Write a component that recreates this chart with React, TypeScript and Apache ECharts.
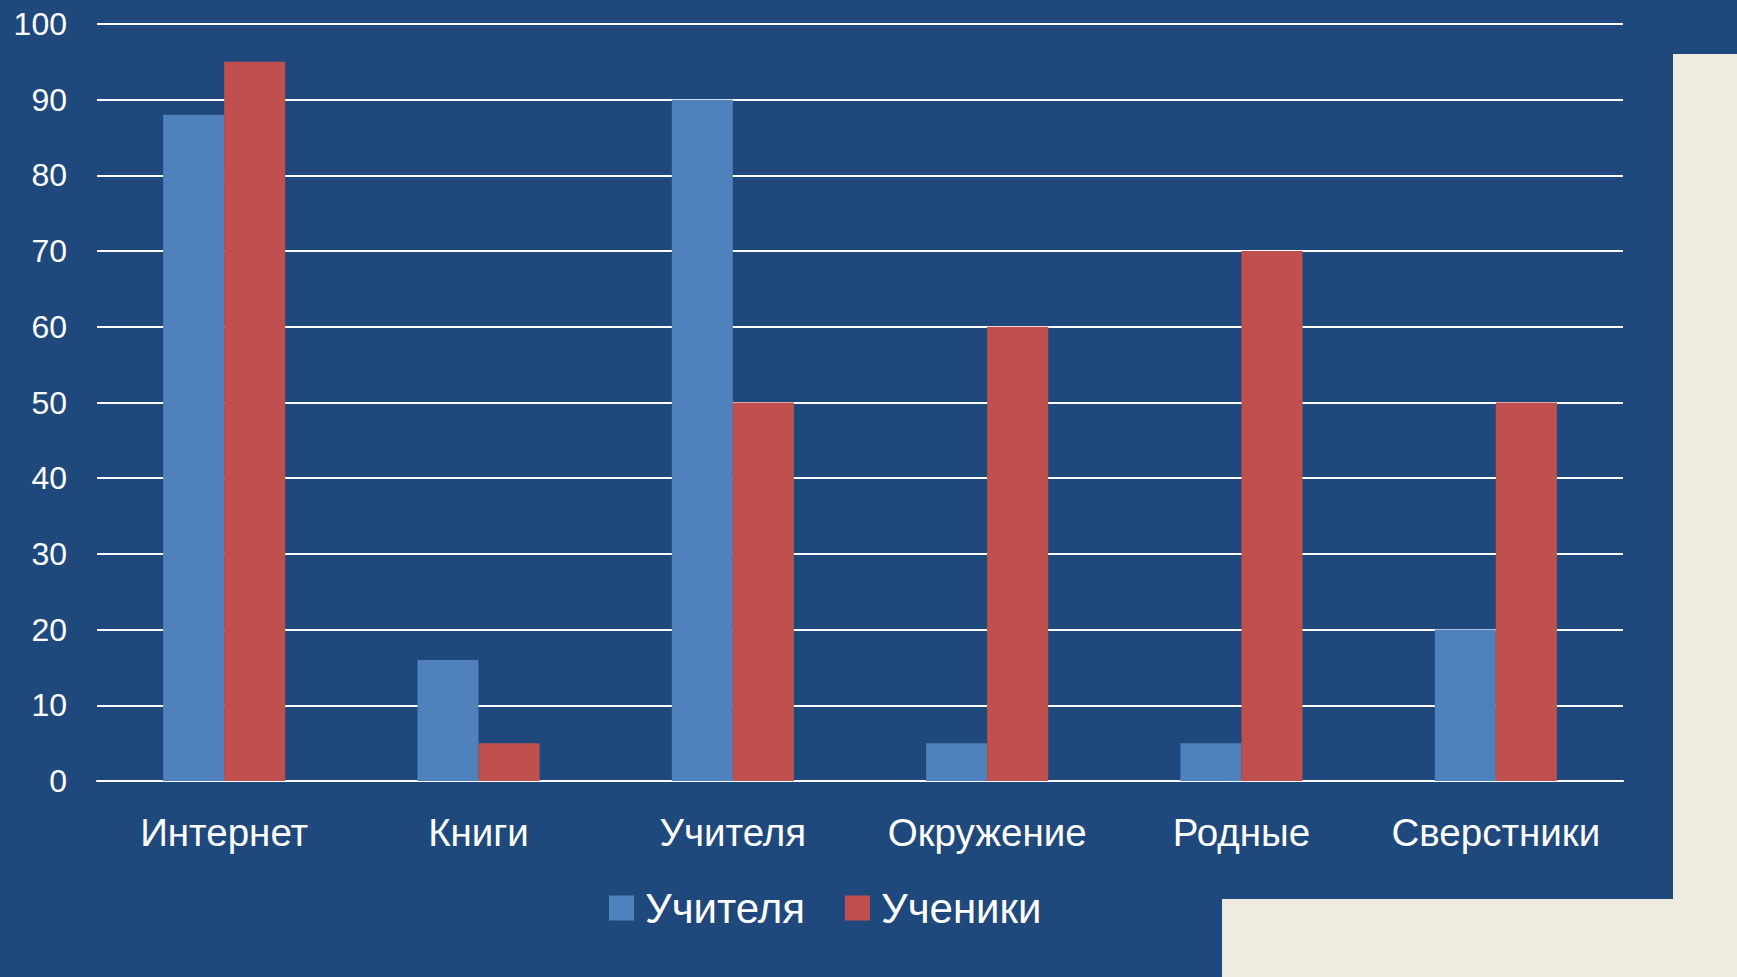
import React, { useEffect, useRef } from "react";
import * as echarts from "echarts";

const categories = ["Интернет", "Книги", "Учителя", "Окружение", "Родные", "Сверстники"];
const teachers = [88, 16, 90, 5, 5, 20];
const students = [95, 5, 50, 60, 70, 50];
const seriesNames = ["Учителя", "Ученики"];

const FONT = "'Liberation Sans', Arial, sans-serif";

export default function App() {
  const ref = useRef<HTMLDivElement>(null);
  useEffect(() => {
    document.body.style.margin = "0";
    const chart = echarts.init(ref.current!, null, { renderer: "svg" });
    chart.setOption({
      animation: false,
      backgroundColor: "#1F497D",
      graphic: [
        { type: "rect", z: -10, shape: { x: 1673, y: 54, width: 64, height: 923 }, style: { fill: "#EEEBE0" } },
        { type: "rect", z: -10, shape: { x: 1222, y: 899, width: 515, height: 78 }, style: { fill: "#EEEBE0" } },
      ],
      grid: { left: 97, right: 114, top: 24, bottom: 196, containLabel: false },
      legend: {
        left: 609,
        top: 887,
        padding: 0,
        itemWidth: 25,
        itemHeight: 25,
        itemGap: 40,
        icon: "rect",
        data: seriesNames,
        textStyle: { color: "#FFFFFF", fontSize: 42, fontFamily: FONT, padding: [0, 0, 0, 6] },
      },
      xAxis: {
        type: "category",
        data: categories,
        axisLine: { lineStyle: { color: "#FFFFFF", width: 2 } },
        axisTick: { show: false },
        axisLabel: { color: "#FFFFFF", fontSize: 38.5, fontFamily: FONT, margin: 32, interval: 0, hideOverlap: false },
      },
      yAxis: {
        type: "value",
        min: 0,
        max: 100,
        interval: 10,
        axisLine: { show: false },
        axisTick: { show: false },
        axisLabel: { color: "#FFFFFF", fontSize: 32, fontFamily: FONT, margin: 30 },
        splitLine: { lineStyle: { color: "#FFFFFF", width: 2 } },
      },
      series: [
        {
          name: seriesNames[0],
          type: "bar",
          data: teachers,
          barWidth: "24%",
          barGap: "0%",
          itemStyle: { color: "#4F81BD" },
        },
        {
          name: seriesNames[1],
          type: "bar",
          data: students,
          barWidth: "24%",
          barGap: "0%",
          itemStyle: { color: "#C0504D" },
        },
      ],
    });
    return () => chart.dispose();
  }, []);
  return <div ref={ref} style={{ width: 1737, height: 977, position: "absolute", left: 0, top: 0 }} />;
}
